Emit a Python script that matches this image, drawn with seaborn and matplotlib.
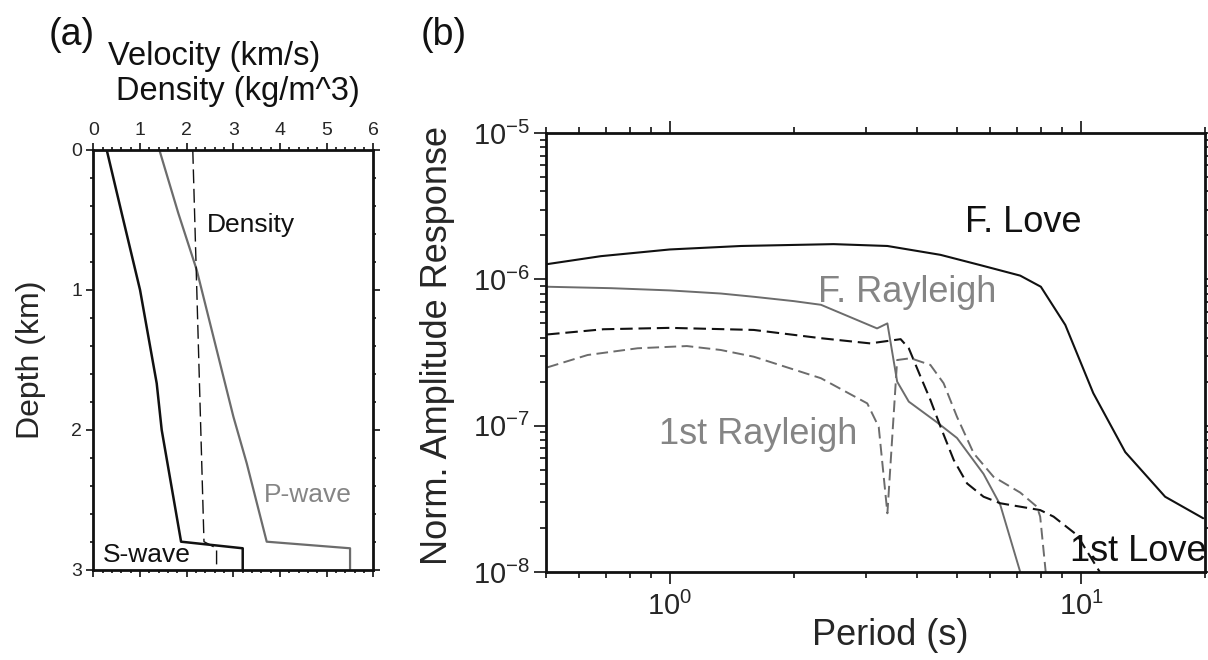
import matplotlib
matplotlib.use("Agg")
import matplotlib.pyplot as plt
import matplotlib.ticker as mticker
import seaborn as sns

sns.set_style("ticks")
plt.rcParams['font.family'] = ['Liberation Sans', 'DejaVu Sans']
plt.rcParams['mathtext.fontset'] = 'custom'
plt.rcParams['mathtext.rm'] = 'Liberation Sans'
plt.rcParams['axes.unicode_minus'] = True

BLACK = '#111111'
GRAY = '#6c6c6c'
GRAY_TXT = '#858585'

# (a) velocity / density profile
s_depth = [0.0, 0.452, 1.0, 1.667, 2.0, 2.798, 2.845, 3.0]
s_vel = [0.286, 0.607, 1.0, 1.357, 1.464, 1.879, 3.2, 3.2]

p_depth = [0.0, 0.452, 0.857, 1.333, 1.905, 2.238, 2.798, 2.845, 3.0]
p_vel = [1.414, 1.82, 2.214, 2.571, 3.0, 3.286, 3.714, 5.5, 5.5]

rho_depth = [0.0, 2.798, 2.845, 3.0]
rho_val = [2.13, 2.37, 2.64, 2.64]

# (b) amplitude response vs period
love0_T = [0.503, 0.68, 1.0, 1.49, 2.5, 3.38, 4.55, 5.69, 7.11, 7.98, 9.15, 10.7,
           12.8, 16.0, 19.8]
love0_A = [1.27e-6, 1.44e-6, 1.6e-6, 1.69e-6, 1.74e-6, 1.69e-6, 1.47e-6, 1.25e-6,
           1.06e-6, 8.9e-7, 4.88e-7, 1.67e-7, 6.6e-8, 3.27e-8, 2.33e-8]

ray0_T = [0.503, 0.72, 1.0, 1.33, 1.6, 2.0, 2.33, 3.19, 3.38, 3.57, 3.81, 4.47, 4.99,
          5.79, 6.36, 7.11]
ray0_A = [8.9e-7, 8.7e-7, 8.4e-7, 8.0e-7, 7.6e-7, 7.1e-7, 6.7e-7, 4.62e-7, 5.0e-7,
          2.0e-7, 1.46e-7, 1.05e-7, 8.24e-8, 4.68e-8, 2.87e-8, 1.0e-8]

love1_T = [0.503, 0.69, 1.0, 1.6, 2.33, 3.07, 3.64, 3.81, 4.07, 4.30, 4.55, 4.90,
           5.28, 5.79, 6.36, 7.95, 8.57, 9.77, 11.1]
love1_A = [4.2e-7, 4.56e-7, 4.66e-7, 4.51e-7, 3.96e-7, 3.65e-7, 3.9e-7, 3.38e-7,
           2.16e-7, 1.5e-7, 9.84e-8, 5.83e-8, 4.03e-8, 3.27e-8, 2.95e-8, 2.65e-8,
           2.39e-8, 1.79e-8, 1.0e-8]

ray1_T = [0.503, 0.631, 0.835, 1.1, 1.33, 1.6, 2.33, 3.02, 3.22, 3.38, 3.57, 3.85,
          4.30, 4.63, 4.99, 5.48, 6.12, 7.11, 7.81, 7.95, 8.2]
ray1_A = [2.5e-7, 3.04e-7, 3.38e-7, 3.5e-7, 3.29e-7, 2.96e-7, 2.11e-7, 1.42e-7,
          9.8e-8, 2.52e-8, 2.81e-7, 2.89e-7, 2.6e-7, 1.95e-7, 1.15e-7, 6.47e-8,
          4.48e-8, 3.49e-8, 2.79e-8, 2.39e-8, 1.0e-8]

fig = plt.figure(figsize=(12.08, 6.6), dpi=100)
ax1 = fig.add_axes([0.0773, 0.1364, 0.2318, 0.6364])
ax2 = fig.add_axes([0.452, 0.1333, 0.5455, 0.6652])

# ---- panel (a)
sns.lineplot(x=s_vel, y=s_depth, sort=False, estimator=None, color=BLACK, lw=1.8, ax=ax1)
sns.lineplot(x=p_vel, y=p_depth, sort=False, estimator=None, color=GRAY, lw=1.6, ax=ax1)
sns.lineplot(x=rho_val, y=rho_depth, sort=False, estimator=None, color=BLACK, lw=1.0,
             linestyle=(0, (10, 4)), ax=ax1)
ax1.set_xlim(0, 6)
ax1.set_ylim(3, 0)
ax1.xaxis.set_major_locator(mticker.MultipleLocator(1))
ax1.xaxis.set_minor_locator(mticker.MultipleLocator(0.2))
ax1.yaxis.set_major_locator(mticker.MultipleLocator(1))
ax1.yaxis.set_minor_locator(mticker.MultipleLocator(0.2))
ax1.tick_params(which='both', direction='out', top=True, bottom=True, left=True, right=True,
                labeltop=True, labelbottom=False, labelsize=14, width=1.2, color=BLACK, pad=3)
ax1.tick_params(which='major', length=5)
ax1.tick_params(which='minor', length=2.5)
ax1.set_ylabel('Depth (km)', fontsize=23)
ax1.yaxis.set_label_coords(-0.17, 0.5)
for sp in ax1.spines.values():
    sp.set_linewidth(2.0)
    sp.set_color(BLACK)
ax1.text(2.43, 0.584, 'Density', fontsize=19, color=BLACK, va='baseline')
ax1.text(3.657, 2.516, 'P-wave', fontsize=19, color=GRAY_TXT, va='baseline')
ax1.text(0.2, 2.94, 'S-wave', fontsize=19, color=BLACK, va='baseline')

# ---- panel (b)
sns.lineplot(x=love0_T, y=love0_A, sort=False, estimator=None, color=BLACK, lw=1.5, ax=ax2)
sns.lineplot(x=ray0_T, y=ray0_A, sort=False, estimator=None, color=GRAY, lw=1.4, ax=ax2)
sns.lineplot(x=love1_T, y=love1_A, sort=False, estimator=None, color=BLACK, lw=1.5,
             linestyle=(0, (6, 2.8)), ax=ax2)
sns.lineplot(x=ray1_T, y=ray1_A, sort=False, estimator=None, color=GRAY, lw=1.4,
             linestyle=(0, (6, 2.8)), ax=ax2)
ax2.set_xscale('log')
ax2.set_yscale('log')
ax2.set_xlim(0.5, 20)
ax2.set_ylim(1e-8, 1e-5)
ax2.xaxis.set_major_locator(mticker.LogLocator(base=10, numticks=10))
ax2.xaxis.set_minor_locator(mticker.LogLocator(base=10, subs=range(2, 10), numticks=20))
ax2.yaxis.set_major_locator(mticker.LogLocator(base=10, numticks=10))
ax2.yaxis.set_minor_locator(mticker.LogLocator(base=10, subs=range(2, 10), numticks=20))
ax2.xaxis.set_minor_formatter(mticker.NullFormatter())
ax2.yaxis.set_minor_formatter(mticker.NullFormatter())
ax2.tick_params(which='both', direction='out', top=True, bottom=True, left=True, right=True,
                labelsize=21, width=1.2, color=BLACK)
ax2.tick_params(which='major', length=8.5)
ax2.tick_params(which='minor', length=4.5)
ax2.tick_params(axis='x', which='major', pad=6)
ax2.tick_params(axis='y', which='major', pad=3)
ax2.set_xlabel('Period (s)', fontsize=26)
ax2.xaxis.set_label_coords(0.522, -0.105)
ax2.set_ylabel('Norm. Amplitude Response', fontsize=26)
ax2.yaxis.set_label_coords(-0.138, 0.515)
for sp in ax2.spines.values():
    sp.set_linewidth(2.0)
    sp.set_color(BLACK)
ax2.text(5.23, 2.12e-6, 'F. Love', fontsize=26, color=BLACK, va='baseline')
ax2.text(2.29, 6.97e-7, 'F. Rayleigh', fontsize=26, color=GRAY_TXT, va='baseline')
ax2.text(0.94, 7.5e-8, '1st Rayleigh', fontsize=26, color=GRAY_TXT, va='baseline')
ax2.text(9.4, 1.19e-8, '1st Love', fontsize=26, color=BLACK, va='baseline')

# ---- headings
fig.text(0.0593, 0.947, '(a)', fontsize=27, ha='center', va='center', color=BLACK)
fig.text(0.3675, 0.947, '(b)', fontsize=27, ha='center', va='center', color=BLACK)
fig.text(0.1775, 0.914, 'Velocity (km/s)', fontsize=23.5, ha='center', va='center', color=BLACK)
fig.text(0.197, 0.861, 'Density (kg/m^3)', fontsize=23.5, ha='center', va='center', color=BLACK)

fig.savefig('out.png', dpi=100)
